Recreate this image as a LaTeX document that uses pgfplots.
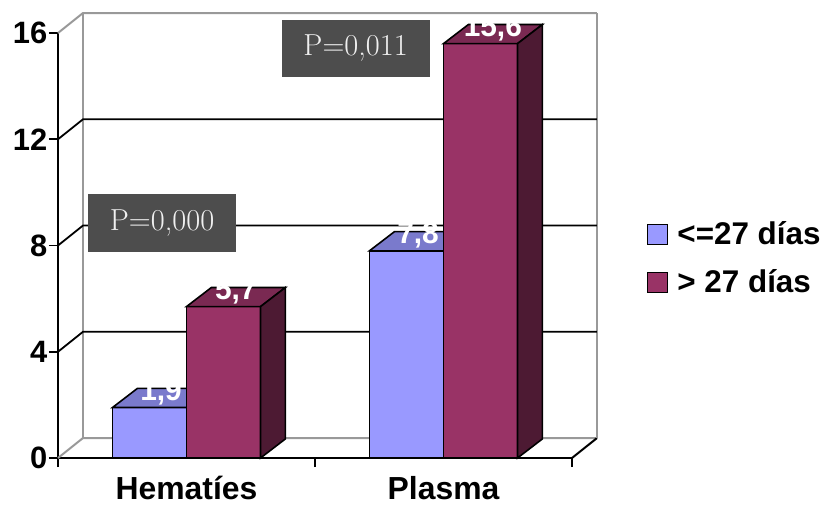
\documentclass[border=0pt]{standalone}
\usepackage{fontspec}
\setsansfont{Liberation Sans}
\usepackage{pgfplots}
\pgfplotsset{compat=1.18}
\definecolor{bfront}{HTML}{9999FF}
\definecolor{btop}{HTML}{7A7ACC}
\definecolor{rfront}{HTML}{993366}
\definecolor{rtop}{HTML}{7A2952}
\definecolor{rside}{HTML}{4D1A33}
\definecolor{wallg}{HTML}{999999}
\definecolor{boxg}{HTML}{4D4D4D}
\begin{document}
\begin{tikzpicture}
\pgfplotsset{sqlegend/.style={legend image code/.code={\draw[##1, draw=black, line width=1.2bp] (0bp,-10bp) rectangle (20bp,10bp);}}}
\begin{axis}[
  at={(0,0)}, anchor=south west,
  scale only axis, width=514bp, height=425bp,
  xmin=0, xmax=2, ymin=0, ymax=16,
  clip=false,
  axis x line*=bottom, axis y line*=left,
  axis line style={black, line width=1.6bp, -},
  ytick={0,4,8,12,16},
  xtick={0,1,2}, xticklabels={},
  extra x ticks={0.5,1.5}, extra x tick labels={Hematíes,Plasma},
  extra x tick style={major tick length=0pt},
  tick align=outside, major tick length=9bp,
  tick style={black, line width=1.6bp},
  /pgf/number format/assume math mode=true,
  yticklabel style={font=\fontsize{31}{34}\selectfont\sffamily\bfseries, inner sep=1.5bp},
  xticklabel style={font=\fontsize{32}{34}\selectfont\sffamily\bfseries, inner sep=0pt, text depth=0pt, yshift=-18bp},
  legend style={at={(1.146,0.469)}, anchor=west, draw=none, fill=none, inner sep=0pt, row sep=27bp,
    font=\fontsize{31.5}{33}\selectfont\sffamily\bfseries, cells={anchor=west},
    nodes={inner sep=0pt, text height=20bp, text depth=0bp},
    /tikz/every odd column/.append style={column sep=9bp}},
  legend cell align=left,
]
% back wall and gridlines
\addplot[wallg, line width=2bp, forget plot] coordinates {(0,0) (0.097,0.75) (2.097,0.75)};
\addplot[black, line width=2bp, forget plot] coordinates {(2,0) (2.097,0.75)};
\addplot[wallg, line width=2bp, forget plot] coordinates {(0.097,0.75) (0.097,16.75)};
\addplot[wallg, line width=2bp, forget plot] coordinates {(2.097,0.75) (2.097,16.75)};
\addplot[wallg, line width=2bp, forget plot] coordinates {(0,16) (0.097,16.75) (2.097,16.75)};
\addplot[black, line width=1.8bp, forget plot] coordinates {(0,4) (0.097,4.75) (2.097,4.75)};
\addplot[black, line width=1.8bp, forget plot] coordinates {(0,8) (0.097,8.75) (2.097,8.75)};
\addplot[black, line width=1.8bp, forget plot] coordinates {(0,12) (0.097,12.75) (2.097,12.75)};
% series 1: <=27 dias
\addplot[ybar, bar width=0.288, bar shift=-0.144, fill=bfront, draw=black, line width=1.6bp, sqlegend]
  coordinates {(0.5,1.9) (1.5,7.8)};
\addlegendentry{<=27 días}
\addplot[fill=btop, draw=black, line width=1.6bp, forget plot] coordinates {(0.212,1.9) (0.309,2.62) (0.597,2.62) (0.5,1.9)} -- cycle;
\addplot[fill=btop, draw=black, line width=1.6bp, forget plot] coordinates {(1.212,7.8) (1.309,8.52) (1.597,8.52) (1.5,7.8)} -- cycle;
\node[text=white, anchor=base, font=\fontsize{30}{32}\selectfont\sffamily\bfseries] at (axis cs:0.401,1.9) [yshift=7bp] {1,9};
\node[text=white, anchor=base, font=\fontsize{30}{32}\selectfont\sffamily\bfseries] at (axis cs:1.401,7.8) [yshift=7bp] {7,8};
% series 2: > 27 dias
\addplot[ybar, bar width=0.288, bar shift=0.144, fill=rfront, draw=black, line width=1.6bp, sqlegend]
  coordinates {(0.5,5.7) (1.5,15.6)};
\addlegendentry{> 27 días}
\addplot[fill=rtop, draw=black, line width=1.6bp, forget plot] coordinates {(0.5,5.7) (0.597,6.42) (0.885,6.42) (0.788,5.7)} -- cycle;
\addplot[fill=rside, draw=black, line width=1.6bp, forget plot] coordinates {(0.788,0) (0.885,0.72) (0.885,6.42) (0.788,5.7)} -- cycle;
\addplot[fill=rtop, draw=black, line width=1.6bp, forget plot] coordinates {(1.5,15.6) (1.597,16.32) (1.885,16.32) (1.788,15.6)} -- cycle;
\addplot[fill=rside, draw=black, line width=1.6bp, forget plot] coordinates {(1.788,0) (1.885,0.72) (1.885,16.32) (1.788,15.6)} -- cycle;
\node[text=white, anchor=base, font=\fontsize{30}{32}\selectfont\sffamily\bfseries] at (axis cs:0.692,5.7) [yshift=7bp] {5,7};
\node[text=white, anchor=base, font=\fontsize{30}{32}\selectfont\sffamily\bfseries] at (axis cs:1.692,15.6) [yshift=7bp] {15,6};
% P-value boxes
\node[fill=boxg, text=white!94!black, minimum width=148bp, minimum height=58bp, inner sep=0pt, font=\fontsize{30.5}{32}\selectfont\rmfamily] at (axis cs:0.405,8.85) {P=0,000};
\node[fill=boxg, text=white!94!black, minimum width=148bp, minimum height=57bp, inner sep=0pt, font=\fontsize{30.5}{32}\selectfont\rmfamily] at (axis cs:1.158,15.42) {P=0,011};
\end{axis}
\pgfresetboundingbox
\path (-58bp,-47bp) rectangle (767bp,458bp);
\end{tikzpicture}
\end{document}
